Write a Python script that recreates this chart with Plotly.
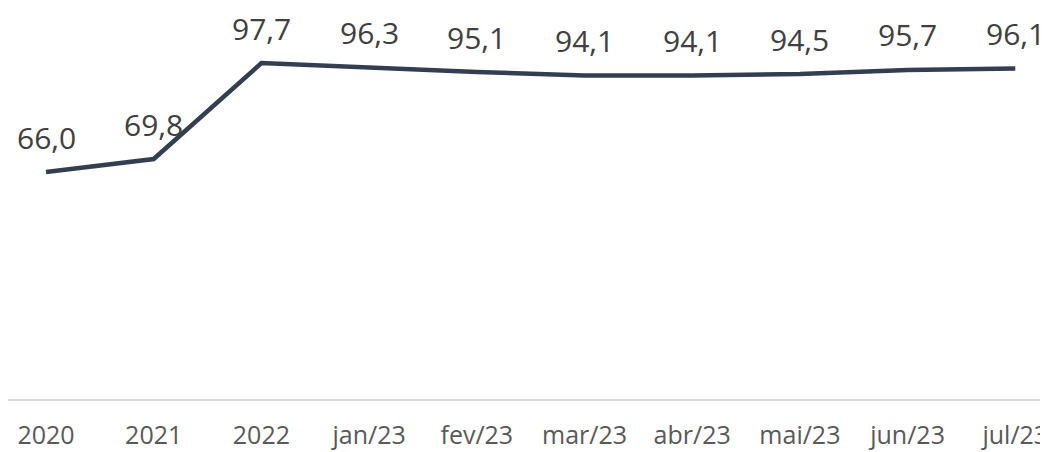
import plotly.graph_objects as go

periodos = ['2020', '2021', '2022', 'jan/23', 'fev/23', 'mar/23', 'abr/23', 'mai/23', 'jun/23', 'jul/23']
valores = [66.0, 69.8, 97.7, 96.3, 95.1, 94.1, 94.1, 94.5, 95.7, 96.1]

fonte = 'Open Sans'

fig = go.Figure()
fig.add_trace(go.Scatter(
    x=periodos, y=valores, mode='lines',
    line=dict(color='#333f50', width=4.5),
    hoverinfo='skip', showlegend=False,
))

# rótulos de dados (vírgula decimal); x pelo índice da categoria
for i, v in enumerate(valores):
    fig.add_annotation(
        x=i, y=v, xref='x', yref='y',
        text=f'{v:.1f}'.replace('.', ','),
        showarrow=False, yshift=35,
        font=dict(family=fonte, size=30, color='#404040'),
    )

fig.update_layout(
    width=1048, height=452,
    margin=dict(l=0, r=0, t=0, b=61),
    paper_bgcolor='white', plot_bgcolor='white',
    xaxis=dict(
        type='category', range=[-0.353, 9.378],
        showgrid=False, showline=True, linecolor='#d9d9d9', linewidth=1.5,
        ticks='', tickfont=dict(family=fonte, size=25, color='#595959'),
        ticklabelstandoff=13,
    ),
    yaxis=dict(range=[0, 113.73], visible=False, showgrid=False, zeroline=False),
)

fig.write_html('out.html')
